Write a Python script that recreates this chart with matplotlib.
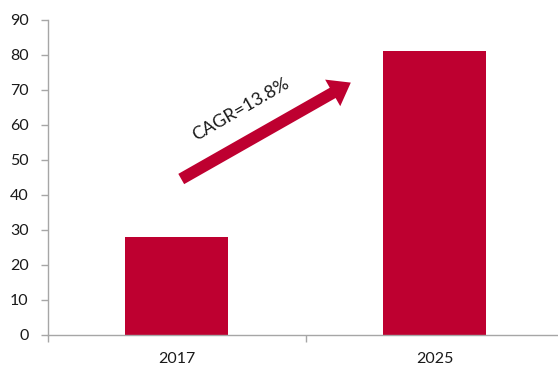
import matplotlib
matplotlib.use("Agg")
import matplotlib.pyplot as plt

# Market size by year
categories = ["2017", "2025"]
values = [28, 81]
yticks = [0, 10, 20, 30, 40, 50, 60, 70, 80, 90]
cagr_label = "CAGR=13.8%"

bar_color = "#BE0030"
axis_color = "#A6A6A6"
text_color = "#1A1A1A"

plt.rcParams["font.family"] = ["Lato", "DejaVu Sans"]

fig = plt.figure(figsize=(5.58, 3.67), dpi=100)
ax = fig.add_axes([48 / 558, 32 / 367, 510 / 558, 315.5 / 367])

x = list(range(len(categories)))
ax.bar(x, values, width=0.4, color=bar_color, zorder=2)

ax.set_xlim(-0.5, 1.479)
ax.set_ylim(0, 90)
ax.set_yticks(yticks)
ax.set_yticklabels([str(t) for t in yticks])

# category separators as major ticks, names as minor ticks
ax.set_xticks([-0.5, 0.5])
ax.set_xticklabels([])
ax.set_xticks(x, minor=True)
ax.set_xticklabels(categories, minor=True)
ax.tick_params(axis="x", which="major", length=5, color=axis_color, width=1)
ax.tick_params(axis="x", which="minor", length=0, pad=12,
               labelsize=11.5, labelcolor=text_color)
ax.tick_params(axis="y", length=5, color=axis_color, width=1, pad=9,
               labelsize=11.5, labelcolor=text_color)

for side in ("top", "right"):
    ax.spines[side].set_visible(False)
for side in ("left", "bottom"):
    ax.spines[side].set_color(axis_color)
    ax.spines[side].set_linewidth(1)

# growth arrow with CAGR annotation
arrow_tail = (0.017, 44.5)
arrow_head = (0.675, 72.0)
ax.annotate("", xy=arrow_head, xytext=arrow_tail,
            arrowprops=dict(arrowstyle="simple,head_width=22,head_length=15,tail_width=8.5",
                            mutation_scale=1, color=bar_color,
                            shrinkA=0, shrinkB=0, linewidth=0),
            zorder=3)
ax.text(0.249, 64.2, cagr_label, rotation=30, ha="center", va="center",
        fontsize=13, color=text_color, rotation_mode="anchor")

fig.savefig("out.png", dpi=100)
